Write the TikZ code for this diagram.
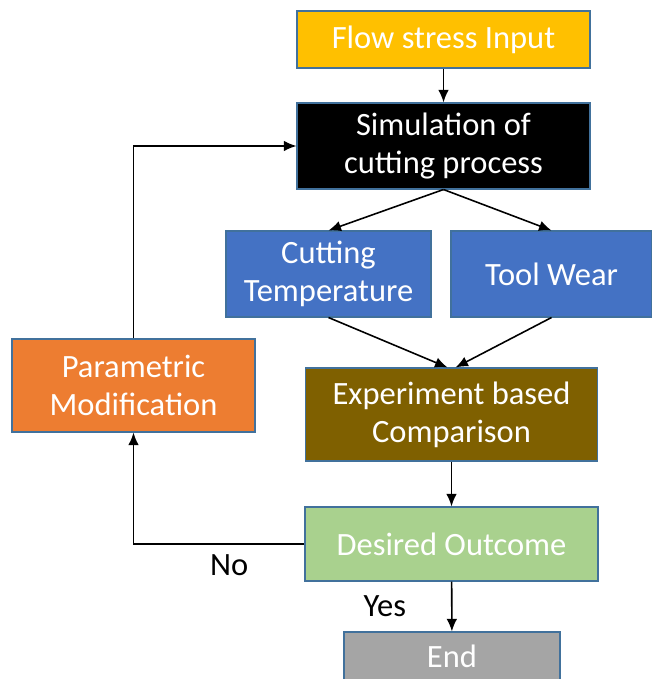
\documentclass[tikz,border=0pt]{standalone}
\usepackage{fontspec}
\setmainfont{Carlito}
\usepackage{tikz}
\usepackage{xcolor}
\usetikzlibrary{shapes.geometric, arrows, arrows.meta, positioning, calc}

\definecolor{flowyellow}{HTML}{FFC000}
\definecolor{toolblue}{HTML}{4472C4}
\definecolor{paramorange}{HTML}{ED7D31}
\definecolor{expbrown}{HTML}{7F6000}
\definecolor{outgreen}{HTML}{A9D18E}
\definecolor{endgray}{HTML}{A5A5A5}
\definecolor{edgeblue}{HTML}{41719C}

\begin{document}
\begin{tikzpicture}[>={Latex[length=2.5mm, width=2.1mm]},
  box/.style={draw=edgeblue, line width=0.6pt, text=white, align=center,
    inner sep=2pt, font=\fontsize{18.5}{21.5}\selectfont},
  lbl/.style={inner sep=0pt, font=\fontsize{18.5}{21.5}\selectfont}]
\useasboundingbox (0,0) rectangle (13.02,13.58);
% Cutting simulation loop
\node[box, fill=flowyellow, minimum width=5.86cm, minimum height=1.14cm] (flow) at (8.87,12.79) {Flow stress Input};
\node[box, fill=black, minimum width=5.86cm, minimum height=1.72cm] (sim) at (8.87,10.66) {Simulation of\\cutting process};

\node[box, fill=toolblue, minimum width=4.10cm, minimum height=1.72cm] (temp) at (6.57,8.10) {Cutting\\Temperature};
\node[box, fill=toolblue, minimum width=4.02cm, minimum height=1.72cm] (wear) at (11.03,8.10) {Tool Wear};

\node[box, fill=paramorange, minimum width=4.86cm, minimum height=1.86cm] (param) at (2.67,5.87) {Parametric\\Modification};
\node[box, fill=expbrown, minimum width=5.84cm, minimum height=1.86cm] (exper) at (9.03,5.29) {Experiment based\\Comparison};

\node[box, fill=outgreen, minimum width=5.86cm, minimum height=1.48cm] (desired) at (9.03,2.70) {Desired Outcome};
\node[box, fill=endgray, minimum width=4.32cm, minimum height=0.96cm] (end) at (9.04,0.46) {End};

\draw[->, line width=0.9pt] (flow) -- (sim);
\draw[->, line width=0.9pt] (sim.south) -- (temp.north);
\draw[->, line width=0.9pt] (sim.south) -- (wear.north);

\draw[->, line width=0.9pt] (temp.south) -- ([xshift=-0.08cm]exper.north);
\draw[->, line width=0.9pt] (wear.south) -- ([xshift=0.08cm]exper.north);

\draw[->, line width=0.9pt] (exper) -- (desired);
\draw[->, line width=0.9pt] (desired) -- node[lbl, left=0.9cm] (yes) {Yes} (end);

\draw[->, line width=0.9pt] (desired.west) -| node[lbl, below=0.2cm, pos=0.22] (no) {No} (param.south);
\draw[->, line width=0.9pt] (param.north) |- (sim.west);
\end{tikzpicture}
\end{document}
